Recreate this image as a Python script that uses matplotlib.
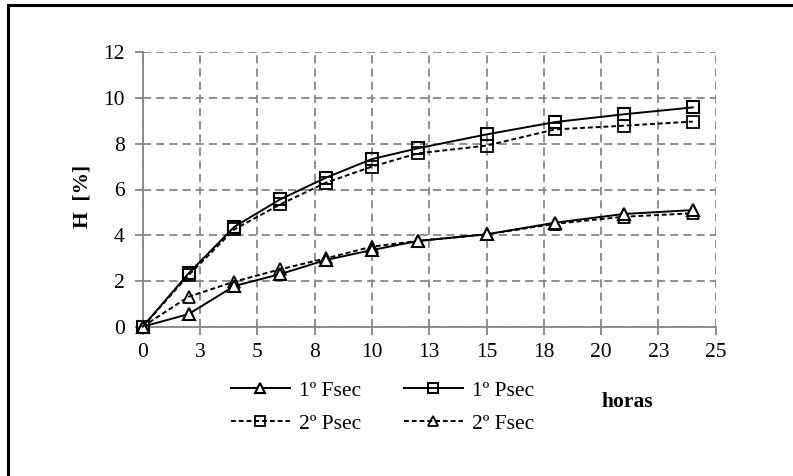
import matplotlib
matplotlib.use('Agg')
import matplotlib.pyplot as plt
from matplotlib.lines import Line2D
import numpy as np

# Horas de secado
horas = [0, 2, 4, 6, 8, 10, 12, 15, 18, 21, 24]

# Humedad perdida H [%]
fsec_1 = [0, 0.55, 1.78, 2.3, 2.92, 3.35, 3.75, 4.04, 4.55, 4.93, 5.1]
psec_1 = [0, 2.33, 4.37, 5.57, 6.52, 7.33, 7.8, 8.41, 8.95, 9.29, 9.59]
psec_2 = [0, 2.25, 4.26, 5.35, 6.3, 7.0, 7.58, 7.92, 8.63, 8.79, 8.97]
fsec_2 = [0, 1.31, 1.97, 2.51, 2.99, 3.5, 3.75, 4.04, 4.5, 4.81, 4.96]

# Ejes
x_ticks = np.arange(0, 25.1, 2.5)
x_tick_labels = ['0', '3', '5', '8', '10', '13', '15', '18', '20', '23', '25']
y_ticks = [0, 2, 4, 6, 8, 10, 12]

plt.rcParams['font.family'] = ['Liberation Serif', 'DejaVu Serif']

W, H = 793, 476
fig = plt.figure(figsize=(W / 100, H / 100), dpi=100)
ax = fig.add_axes([142.7 / W, 1 - 326.7 / H, (715.7 - 142.7) / W, (326.7 - 52.3) / H])

grid_color = '#868686'
lw = 1.4
ms = 8.5
fs = 15.5
dashed = (0, (2.5, 1.5))

ax.plot(horas, fsec_1, color='black', lw=lw, ls='-', marker='^', ms=ms,
        mfc='white', mec='black', mew=1.5, label='1º Fsec', zorder=4, clip_on=False)
ax.plot(horas, psec_2, color='black', lw=lw, ls=dashed, marker='s', ms=ms,
        mfc='none', mec='black', mew=1.3, label='2º Psec', zorder=3, clip_on=False)
ax.plot(horas, psec_1, color='black', lw=lw, ls='-', marker='s', ms=ms,
        mfc='none', mec='black', mew=1.5, label='1º Psec', zorder=4, clip_on=False)
ax.plot(horas, fsec_2, color='black', lw=lw, ls=dashed, marker='^', ms=ms,
        mfc='none', mec='black', mew=1.3, label='2º Fsec', zorder=3, clip_on=False)

ax.set_xlim(0, 25)
ax.set_ylim(0, 12)
ax.set_xticks(x_ticks)
ax.set_xticklabels(x_tick_labels)
ax.set_yticks(y_ticks)

ax.grid(True, color=grid_color, ls=(0, (4.5, 2.8)), lw=1.3)
ax.set_axisbelow(True)
for side in ['top', 'right']:
    ax.spines[side].set_visible(False)
for side in ['left', 'bottom']:
    ax.spines[side].set_color(grid_color)
    ax.spines[side].set_linewidth(1.3)
ax.tick_params(axis='both', direction='out', length=6, width=1.3, color=grid_color,
               labelsize=fs, labelcolor='black')
ax.tick_params(axis='x', pad=6)
ax.tick_params(axis='y', pad=7)

fig.text(82 / W, 1 - 196 / H, r'H  [%]', rotation=90, ha='center', va='center',
         fontsize=fs, fontweight='bold')
fig.text(627 / W, 1 - 402 / H, 'horas', ha='center', va='center',
         fontsize=fs, fontweight='bold')

handles, labels = ax.get_legend_handles_labels()
fig.legend(handles, labels, ncol=2, loc='center left',
           bbox_to_anchor=(220 / W, 1 - 407 / H), frameon=False, fontsize=fs,
           borderpad=0, handlelength=2.75, handletextpad=0.4, columnspacing=2.0,
           labelspacing=0.6, markerscale=0.85)

# Marco exterior (solo borde izquierdo y superior visibles)
fig.add_artist(Line2D([8 / W, 8 / W], [0, 1 - 5 / H], transform=fig.transFigure,
                      color='black', lw=2.2))
fig.add_artist(Line2D([8 / W, 1], [1 - 5 / H, 1 - 5 / H], transform=fig.transFigure,
                      color='black', lw=2.2))

fig.savefig('out.png', dpi=100)
